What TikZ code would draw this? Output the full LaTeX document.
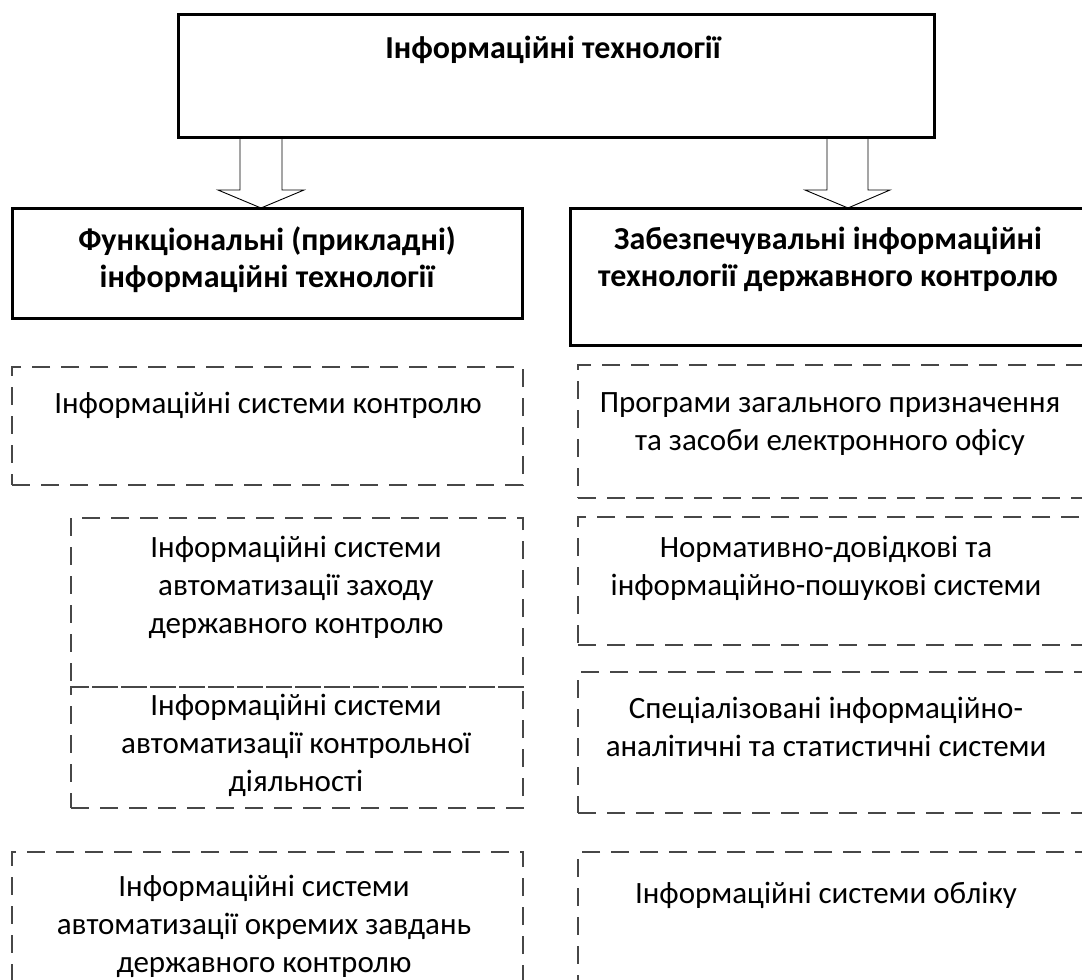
\documentclass[tikz,border=0pt]{standalone}
\usepackage{fontspec}
\setmainfont{Carlito}
\begin{document}
\begin{tikzpicture}[x=1pt,y=-1pt,
  solidbox/.style={draw=black, line width=3pt, anchor=north west, inner sep=0pt, outer sep=0pt},
  dashbox/.style={draw=black!72, line width=1.3pt, dash pattern=on 18pt off 11pt, anchor=north west, inner sep=0pt, outer sep=0pt},
  txt/.style={font=\fontsize{31}{38}\selectfont, align=center, inner sep=0pt, text=black},
  btxt/.style={font=\fontsize{32}{37}\selectfont\bfseries, align=center, inner sep=0pt, text=black},
  blockarrow/.style={draw=black, line width=0.9pt, fill=white, line join=miter}]
\useasboundingbox (0,0) rectangle (1082,980);
\clip (0,0) rectangle (1082,980);
\fill[white] (0,0) rectangle (1082,980);

% block arrows
\coordinate (tipL) at (261,208);
\coordinate (tipR) at (848,208);
\draw[blockarrow] (tipL) -- ++(-43,-18) -- ++(22,0) -- ++(0,-53) -- ++(42,0) -- ++(0,53) -- ++(22,0) -- cycle;
\draw[blockarrow] (tipR) -- ++(-43,-18) -- ++(22,0) -- ++(0,-53) -- ++(41,0) -- ++(0,53) -- ++(22,0) -- cycle;

% solid boxes
\node[solidbox, minimum width=756pt, minimum height=123pt] (T) at (178,14) {};
\node[solidbox, minimum width=510pt, minimum height=110pt] (L) at (12,208) {};
\node[solidbox, minimum width=520pt, minimum height=137pt] (R) at (570,208) {};

% dashed boxes, left column
\node[dashbox, minimum width=511pt, minimum height=118pt] (D1) at (12,367) {};
\node[dashbox, minimum width=452pt, minimum height=169pt] (D2) at (71,518) {};
\node[dashbox, minimum width=452pt, minimum height=121pt] (D3) at (71,687) {};
\node[dashbox, minimum width=511pt, minimum height=200pt] (D4) at (12,852) {};

% dashed boxes, right column
\node[dashbox, minimum width=520pt, minimum height=133pt] (E1) at (578,365) {};
\node[dashbox, minimum width=520pt, minimum height=128pt] (E2) at (578,517) {};
\node[dashbox, minimum width=520pt, minimum height=141pt] (E3) at (578,672) {};
\node[dashbox, minimum width=520pt, minimum height=200pt] (E4) at (578,852) {};

% texts
\node[btxt] (tT) at (553,50) {Інформаційні технології};
\node[btxt] (tL) at (267,259.5) {Функціональні (прикладні)\\інформаційні технології};
\node[btxt] (tR) at (828,259.5) {Забезпечувальні інформаційні\\технології державного контролю};

\node[txt] (tD1) at (268,405) {Інформаційні системи контролю};
\node[txt] (tD2) at (296,587) {Інформаційні системи\\автоматизації заходу\\державного контролю};
\node[txt] (tD3) at (296,745) {Інформаційні системи\\автоматизації контрольної\\діяльності};
\node[txt] (tD4) at (264,926) {Інформаційні системи\\автоматизації окремих завдань\\державного контролю};

\node[txt] (tE1) at (830,424) {Програми загального призначення\\та засоби електронного офісу};
\node[txt] (tE2) at (826,568) {Нормативно-довідкові та\\інформаційно-пошукові системи};
\node[txt] (tE3) at (826,727) {Спеціалізовані інформаційно-\\аналітичні та статистичні системи};
\node[txt] (tE4) at (826,895) {Інформаційні системи обліку};
\end{tikzpicture}
\end{document}
